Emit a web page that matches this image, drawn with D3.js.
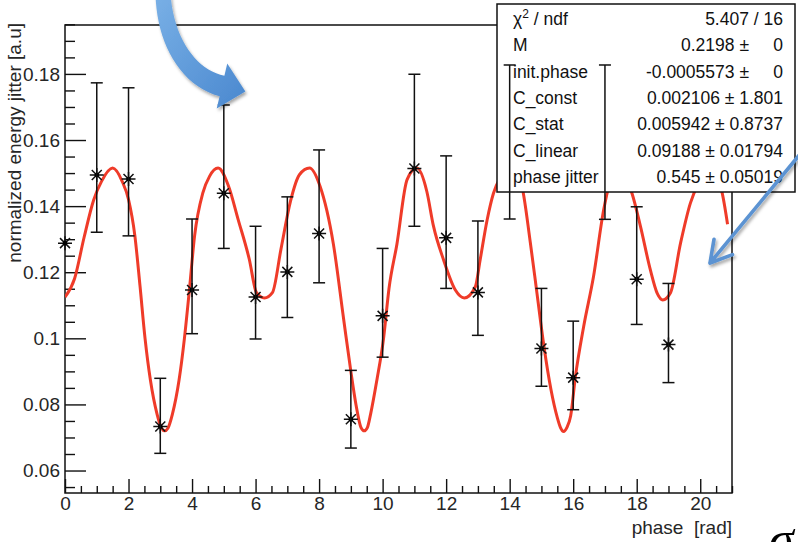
<!DOCTYPE html>
<html>
<head>
<meta charset="utf-8">
<script src="https://cdn.jsdelivr.net/npm/d3@7"></script>
<style>
  html, body { margin: 0; padding: 0; background: #fff; }
  svg { display: block; }
</style>
</head>
<body>
<script>
// Measured points: phase [rad] and normalized energy jitter, with asymmetric error bars
const phase      = [0, 1, 2, 3, 4, 5, 6, 7, 8, 9, 10, 11, 12, 13, 14, 15, 16, 17, 18, 19];
const jitter     = [0.1288, 0.1494, 0.1482, 0.0733, 0.1146, 0.1439, 0.1125, 0.1201, 0.1317, 0.0755,
                    0.1068, 0.1514, 0.1304, 0.1139, 0.1540, 0.0969, 0.0881, 0.1540, 0.1179, 0.0981];
const jitterHigh = [0.1288, 0.1773, 0.1758, 0.0879, 0.1361, 0.1706, 0.1339, 0.1428, 0.1570, 0.0903,
                    0.1272, 0.1799, 0.1552, 0.1355, 0.1827, 0.1151, 0.1052, 0.1827, 0.1398, 0.1166];
const jitterLow  = [0.1288, 0.1321, 0.1310, 0.0652, 0.1014, 0.1272, 0.0998, 0.1063, 0.1168, 0.0668,
                    0.0943, 0.1339, 0.1151, 0.1009, 0.1361, 0.0855, 0.0784, 0.1360, 0.1042, 0.0866];

// Fitted model, sampled along phase
const fitPhase = [0.00, 0.30, 0.60, 0.90, 1.15, 1.50, 1.80, 2.00, 2.20, 2.36, 2.52, 2.69, 2.90, 3.04, 3.14,
                  3.24, 3.38, 3.59, 3.76, 3.92, 4.08, 4.34, 4.55, 4.82, 5.15, 5.45, 5.80, 6.03, 6.28, 6.53,
                  6.80, 7.10, 7.38, 7.70, 8.03, 8.45, 8.77, 9.00, 9.16, 9.32, 9.42, 9.52, 9.62, 9.82, 10.03,
                  10.20, 10.45, 10.77, 11.08, 11.39, 11.60, 11.92, 12.29, 12.57, 12.92, 13.07, 13.29, 13.49,
                  13.70, 14.05, 14.36, 14.65, 14.86, 15.08, 15.30, 15.50, 15.60, 15.70, 15.80, 15.92, 16.07,
                  16.33, 16.64, 16.96, 17.12, 17.40, 17.65, 17.85, 18.12, 18.43, 18.65, 18.82, 19.06, 19.38,
                  19.69, 19.95, 20.33, 20.69, 20.86];
const fitValue = [0.1125, 0.1180, 0.1305, 0.1418, 0.1475, 0.1515, 0.1475, 0.1420, 0.1310, 0.1160, 0.1000,
                  0.0873, 0.0770, 0.0728, 0.0720, 0.0728, 0.0770, 0.0873, 0.1000, 0.1150, 0.1310, 0.1440,
                  0.1490, 0.1515, 0.1460, 0.1360, 0.1240, 0.1138, 0.1122, 0.1138, 0.1270, 0.1415, 0.1495,
                  0.1515, 0.1460, 0.1285, 0.1060, 0.0900, 0.0800, 0.0730, 0.0720, 0.0730, 0.0770, 0.0874,
                  0.1000, 0.1150, 0.1285, 0.1480, 0.1515, 0.1445, 0.1340, 0.1237, 0.1146, 0.1122, 0.1156,
                  0.1237, 0.1358, 0.1439, 0.1485, 0.1515, 0.1470, 0.1290, 0.1136, 0.0975, 0.0845, 0.0760,
                  0.0730, 0.0718, 0.0730, 0.0765, 0.0884, 0.1036, 0.1187, 0.1389, 0.1460, 0.1515, 0.1485,
                  0.1439, 0.1338, 0.1207, 0.1135, 0.1116, 0.1137, 0.1288, 0.1409, 0.1470, 0.1515, 0.1440,
                  0.1345];

// Axis ticks
const xMajorTicks = [0, 2, 4, 6, 8, 10, 12, 14, 16, 18, 20];
const yMajorTicks = [0.06, 0.08, 0.10, 0.12, 0.14, 0.16, 0.18];

// Fit statistics
const statLabels = ["ndf", "M", "init.phase", "C_const", "C_stat", "C_linear", "phase jitter"];
const statValues = ["5.407 / 16", "0.2198", "-0.0005573", "0.002106", "0.005942", "0.09188", "0.545"];
const statErrors = [null, "0", "0", "1.801", "0.8737", "0.01794", "0.05019"];

const W = 798, H = 542;
const FONT = "'Liberation Sans', Arial, Helvetica, sans-serif";
const svg = d3.select("body").append("svg").attr("width", W).attr("height", H)
  .style("background", "#fff");

const x = d3.scaleLinear().domain([0, 21]).range([65, 732]);
const y = d3.scaleLinear().domain([0.0532, 0.1948]).range([493, 25]);

const defs = svg.append("defs");
const grad = defs.append("linearGradient").attr("id", "arrowFill")
  .attr("x1", "0%").attr("y1", "0%").attr("x2", "100%").attr("y2", "100%");
grad.append("stop").attr("offset", "0%").attr("stop-color", "#79b0e6");
grad.append("stop").attr("offset", "100%").attr("stop-color", "#4a88cf");
const shadow = defs.append("filter").attr("id", "soft").attr("x", "-30%").attr("y", "-30%")
  .attr("width", "160%").attr("height", "160%");
shadow.append("feDropShadow").attr("dx", 1.5).attr("dy", 2.5).attr("stdDeviation", 1.8)
  .attr("flood-color", "#000").attr("flood-opacity", 0.35);
defs.append("clipPath").attr("id", "plotClip").append("rect")
  .attr("x", x(0)).attr("y", y(0.1948)).attr("width", x(21) - x(0)).attr("height", y(0.0532) - y(0.1948));

// ---- axes ----
const yMinor = d3.range(0.055, 0.1950, 0.005).filter(v => !yMajorTicks.some(m => Math.abs(m - v) < 1e-6));
const xMinor = d3.range(0.5, 21.01, 0.5).filter(v => !xMajorTicks.includes(v));

function styleAxis(g) {
  g.select(".domain").remove();
  g.selectAll("line").attr("stroke", "#111").attr("stroke-width", 1.4);
  g.selectAll("text").attr("fill", "#262626").style("font-family", FONT).style("font-size", "19px");
}

svg.append("g").attr("transform", `translate(${x(0)},0)`)
  .call(d3.axisLeft(y).tickValues(yMinor).tickSize(-10).tickFormat(""))
  .call(styleAxis);
svg.append("g").attr("transform", `translate(${x(0)},0)`)
  .call(d3.axisLeft(y).tickValues(yMajorTicks).tickSize(-21).tickPadding(5)
        .tickFormat(d => d3.format("")(+d.toFixed(2))))
  .call(styleAxis);
svg.append("g").attr("transform", `translate(0,${y(0.0532)})`)
  .call(d3.axisBottom(x).tickValues(xMinor).tickSize(-7).tickFormat(""))
  .call(styleAxis);
svg.append("g").attr("transform", `translate(0,${y(0.0532)})`)
  .call(d3.axisBottom(x).tickValues(xMajorTicks).tickSize(-14).tickPadding(4))
  .call(styleAxis);

// frame
svg.append("rect").attr("x", x(0)).attr("y", y(0.1948))
  .attr("width", x(21) - x(0)).attr("height", y(0.0532) - y(0.1948))
  .attr("fill", "none").attr("stroke", "#111").attr("stroke-width", 1.5);

// axis titles
svg.append("text").attr("transform", `translate(21,${y(0.1948) - 2}) rotate(-90)`)
  .attr("text-anchor", "end").attr("fill", "#262626")
  .style("font-family", FONT).style("font-size", "19px")
  .text("normalized energy jitter [a.u]");
svg.append("text").attr("x", x(21)).attr("y", 534).attr("text-anchor", "end")
  .attr("fill", "#262626").style("font-family", FONT).style("font-size", "19px")
  .style("white-space", "pre").text("phase  [rad]");

// ---- fit curve ----
const line = d3.line().x(d => x(d[0])).y(d => y(d[1])).curve(d3.curveMonotoneX);
svg.append("path").datum(fitPhase.map((p, i) => [p, fitValue[i]]))
  .attr("clip-path", "url(#plotClip)")
  .attr("d", line).attr("fill", "none").attr("stroke", "#ef3b29").attr("stroke-width", 3)
  .attr("stroke-linejoin", "round");

// ---- star markers ----
const pts = phase.map((p, i) => ({ p, v: jitter[i], hi: jitterHigh[i], lo: jitterLow[i] }));
svg.append("g").selectAll("path").data(pts).join("path")
  .attr("d", d => {
    const cx = x(d.p), cy = y(d.v), r = 7, q = 5;
    const pa = d3.path();
    pa.moveTo(cx - r, cy); pa.lineTo(cx + r, cy);
    pa.moveTo(cx, cy - r); pa.lineTo(cx, cy + r);
    pa.moveTo(cx - q, cy - q); pa.lineTo(cx + q, cy + q);
    pa.moveTo(cx - q, cy + q); pa.lineTo(cx + q, cy - q);
    return pa.toString();
  })
  .attr("stroke", "#111").attr("stroke-width", 1.5).attr("fill", "none");
svg.append("g").selectAll("circle").data(pts).join("circle")
  .attr("cx", d => x(d.p)).attr("cy", d => y(d.v)).attr("r", 2.3).attr("fill", "#000");

// ---- statistics box ----
const box = svg.append("g");
box.append("rect").attr("x", 497).attr("y", 4).attr("width", 298).attr("height", 188)
  .attr("fill", "#fff").attr("stroke", "#111").attr("stroke-width", 1.5);
statLabels.forEach((lab, i) => {
  const by = 25 + i * 26.3;
  const t = box.append("text").attr("x", 513).attr("y", by).attr("fill", "#111")
    .style("font-family", FONT).style("font-size", "17.5px");
  if (i === 0) {
    t.append("tspan").text("χ");
    t.append("tspan").attr("dy", -7).style("font-size", "12px").text("2");
    t.append("tspan").attr("dy", 7).style("white-space", "pre").text(" / " + lab);
  } else {
    t.text(lab);
  }
  if (statErrors[i] === null) {
    box.append("text").attr("x", 783).attr("y", by).attr("text-anchor", "end").attr("fill", "#111")
      .style("font-family", FONT).style("font-size", "17.5px").text(statValues[i]);
  } else if (statErrors[i] === "0") {
    box.append("text").attr("x", 749).attr("y", by).attr("text-anchor", "end").attr("fill", "#111")
      .style("font-family", FONT).style("font-size", "17.5px").text(statValues[i] + " \u00b1");
    box.append("text").attr("x", 783).attr("y", by).attr("text-anchor", "end").attr("fill", "#111")
      .style("font-family", FONT).style("font-size", "17.5px").text(statErrors[i]);
  } else {
    box.append("text").attr("x", 783).attr("y", by).attr("text-anchor", "end").attr("fill", "#111")
      .style("font-family", FONT).style("font-size", "17.5px")
      .text(statValues[i] + " \u00b1 " + statErrors[i]);
  }
});

// ---- error bars ----
const eb = svg.append("g").attr("stroke", "#111").attr("stroke-width", 1.5).attr("fill", "none");
pts.filter(d => d.hi > d.lo).forEach(d => {
  const cx = x(d.p), cap = 6;
  eb.append("line").attr("x1", cx).attr("x2", cx).attr("y1", y(d.hi)).attr("y2", y(d.lo));
  eb.append("line").attr("x1", cx - cap).attr("x2", cx + cap).attr("y1", y(d.hi)).attr("y2", y(d.hi));
  eb.append("line").attr("x1", cx - cap).attr("x2", cx + cap).attr("y1", y(d.lo)).attr("y2", y(d.lo));
});

// ---- callout arrows ----
// curved block arrow from the top
(function () {
  const P = [[163, -6], [165, 40], [188, 78], [222, 86]];
  const bez = t => {
    const u = 1 - t;
    return [
      u*u*u*P[0][0] + 3*u*u*t*P[1][0] + 3*u*t*t*P[2][0] + t*t*t*P[3][0],
      u*u*u*P[0][1] + 3*u*u*t*P[1][1] + 3*u*t*t*P[2][1] + t*t*t*P[3][1]
    ];
  };
  const der = t => {
    const u = 1 - t;
    return [
      3*u*u*(P[1][0]-P[0][0]) + 6*u*t*(P[2][0]-P[1][0]) + 3*t*t*(P[3][0]-P[2][0]),
      3*u*u*(P[1][1]-P[0][1]) + 6*u*t*(P[2][1]-P[1][1]) + 3*t*t*(P[3][1]-P[2][1])
    ];
  };
  const left = [], right = [];
  d3.range(0, 1.0001, 0.05).forEach(t => {
    const [px, py] = bez(t), [dx, dy] = der(t);
    const L = Math.hypot(dx, dy), nx = -dy / L, ny = dx / L;
    const w = (15 + 6 * t) / 2;
    left.push([px + nx * w, py + ny * w]);
    right.push([px - nx * w, py - ny * w]);
  });
  const [ex, ey] = bez(1), [dx, dy] = der(1);
  const L = Math.hypot(dx, dy), ux = dx / L, uy = dy / L, nx = -uy, ny = ux;
  const hw = 23, hl = 24;
  const pa = d3.path();
  pa.moveTo(...left[0]);
  left.slice(1).forEach(p => pa.lineTo(...p));
  pa.lineTo(ex + nx * hw, ey + ny * hw);
  pa.lineTo(ex + ux * hl, ey + uy * hl);
  pa.lineTo(ex - nx * hw, ey - ny * hw);
  right.slice().reverse().forEach(p => pa.lineTo(...p));
  pa.closePath();
  svg.append("path").attr("d", pa.toString()).attr("fill", "url(#arrowFill)")
    .attr("filter", "url(#soft)");
})();

// straight line arrow from the right
(function () {
  const sx = 801, sy = 153, tx = 710, ty = 263;
  const ang = Math.atan2(sy - ty, sx - tx), len = 24, spread = Math.PI / 6;
  const pa = d3.path();
  pa.moveTo(sx, sy); pa.lineTo(tx, ty);
  pa.moveTo(tx + len * Math.cos(ang + spread), ty + len * Math.sin(ang + spread));
  pa.lineTo(tx, ty);
  pa.lineTo(tx + len * Math.cos(ang - spread), ty + len * Math.sin(ang - spread));
  svg.append("path").attr("d", pa.toString()).attr("fill", "none")
    .attr("stroke", "#5b93d2").attr("stroke-width", 3.6).attr("stroke-linecap", "round")
    .attr("stroke-linejoin", "round").attr("filter", "url(#soft)");
})();

// symbol at the lower right corner
svg.append("text").attr("x", 769).attr("y", 556).attr("fill", "#000")
  .style("font-family", "'Liberation Serif', 'Times New Roman', serif")
  .style("font-size", "50px").style("font-style", "italic").text("σ");
</script>
</body>
</html>
